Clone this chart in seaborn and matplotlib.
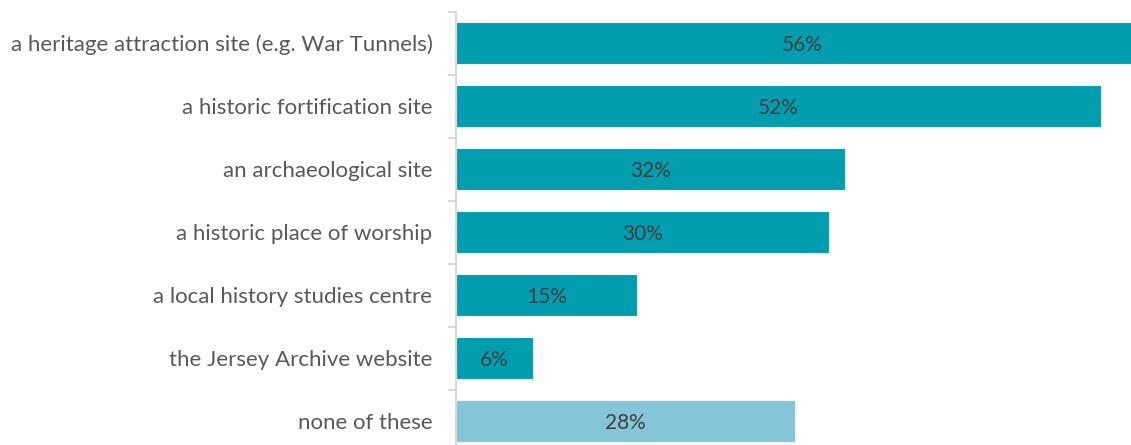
import matplotlib
matplotlib.use("Agg")
import matplotlib.pyplot as plt
import seaborn as sns
import numpy as np

# Data (percent of respondents)
categories = [
    "a heritage attraction site (e.g. War Tunnels)",
    "a historic fortification site",
    "an archaeological site",
    "a historic place of worship",
    "a local history studies centre",
    "the Jersey Archive website",
    "none of these",
]
values = [56.3, 52.4, 31.6, 30.3, 14.7, 6.3, 27.6]
labels = ["56%", "52%", "32%", "30%", "15%", "6%", "28%"]
colors = ["#039DB0"] * 6 + ["#84C6D7"]

sns.set_theme(style="white")
plt.rcParams["font.family"] = ["Lato", "DejaVu Sans"]

fig = plt.figure(figsize=(11.31, 4.45), dpi=100)
# axes runs past the right and bottom edge, like the cropped original
ax = fig.add_axes([456 / 1131, -7.5 / 445, 738 / 1131, 441 / 445])

sns.barplot(
    x=values,
    y=categories,
    hue=categories,
    palette=colors,
    saturation=1,
    legend=False,
    orient="h",
    width=0.67,
    edgecolor="#E8F4F6",
    linewidth=0.8,
    ax=ax,
)

ax.set_xlim(0, 60)
ax.set_ylim(6.5, -0.5)

for i, (v, lab) in enumerate(zip(values, labels)):
    ax.text(v / 2, i + 0.03, lab, ha="center", va="center",
            fontsize=15, color="#404040")

ax.set_xticks([])
ax.set_xlabel("")
ax.set_ylabel("")
ax.tick_params(axis="y", which="major", length=0, pad=17,
               labelsize=16, labelcolor="#595959")
ax.set_yticks(np.arange(-0.5, 7, 1), minor=True)
ax.tick_params(axis="y", which="minor", length=6, width=1.5,
               color="#D9D9D9", left=True)

for s in ["top", "right", "bottom"]:
    ax.spines[s].set_visible(False)
ax.spines["left"].set_color("#D9D9D9")
ax.spines["left"].set_linewidth(1.5)

fig.savefig("out.png", dpi=100)
